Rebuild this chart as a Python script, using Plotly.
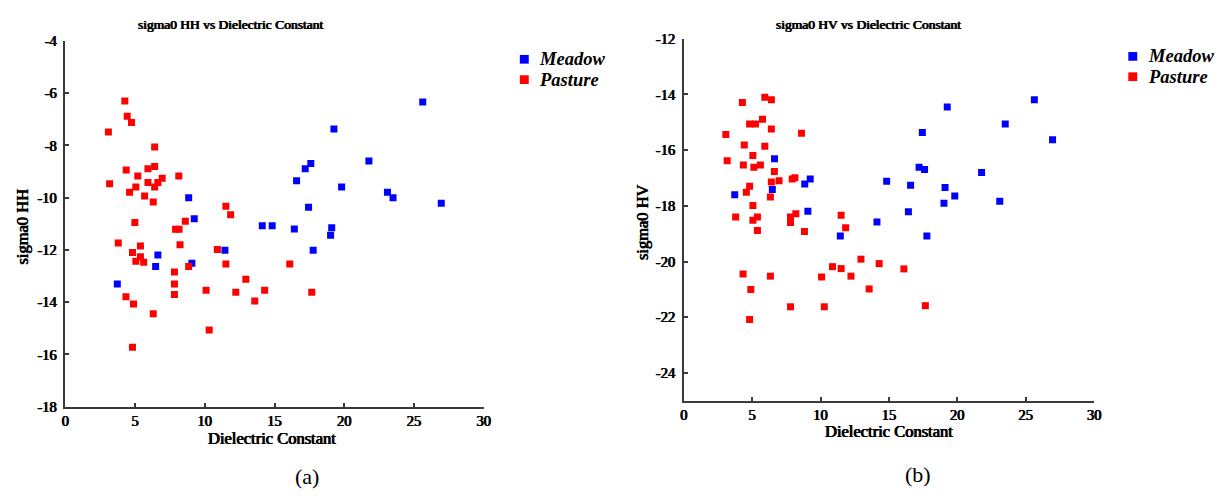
import plotly.graph_objects as go

W, H = 1226, 498

# ---------------- data ----------------
series_names = ["Meadow", "Pasture"]
series_colors = ["#0000FF", "#FF0000"]

meadow_eps = [3.72, 6.47, 6.63, 8.84, 9.24, 9.07, 11.44, 14.12, 14.83, 16.42, 16.58, 17.20,
              17.44, 17.60, 17.77, 19.02, 19.10, 19.26, 19.81, 21.77, 23.10, 23.50, 25.63, 26.96]
meadow_hh = [-13.30, -12.63, -12.19, -10.00, -10.81, -12.51, -12.01, -11.07, -11.07, -11.20, -9.35, -8.89,
             -10.37, -8.69, -12.01, -11.44, -11.15, -7.37, -9.59, -8.60, -9.79, -10.00, -6.34, -10.21]
meadow_hv = [-17.60, -17.41, -16.31, -17.21, -17.03, -18.19, -19.08, -18.58, -17.11, -18.21, -17.26, -16.61,
             -15.36, -16.69, -19.08, -17.90, -17.34, -14.45, -17.64, -16.80, -17.83, -15.06, -14.19, -15.62]

pasture_hh_eps = [4.26, 4.43, 4.74, 3.08, 6.40, 4.36, 6.40, 5.92, 5.19, 6.94,
                  8.13, 3.17, 5.92, 6.63, 6.40, 5.05, 4.60, 5.68, 6.30, 4.98,
                  8.60, 7.90, 8.15, 3.79, 5.38, 8.22, 4.81, 5.38, 5.05, 5.61,
                  8.84, 7.82, 7.82, 7.82, 4.34, 4.88, 6.30, 10.09, 10.31, 4.81,
                  11.51, 11.85, 10.90, 11.51, 16.09, 12.94, 12.22, 14.29, 17.67, 13.58]
pasture_hh = [-6.30, -6.88, -7.12, -7.49, -8.06, -8.94, -8.81, -8.89, -9.17, -9.26,
              -9.17, -9.47, -9.42, -9.42, -9.59, -9.59, -9.79, -9.93, -10.16, -10.95,
              -10.90, -11.21, -11.21, -11.73, -11.85, -11.80, -12.10, -12.26, -12.43, -12.47,
              -12.63, -12.84, -13.30, -13.70, -13.79, -14.07, -14.44, -13.54, -15.06, -15.72,
              -10.33, -10.65, -11.98, -12.54, -12.54, -13.12, -13.62, -13.54, -13.62, -13.95]

pasture_hv_eps = [4.28, 5.92, 6.40, 5.75, 4.81, 5.24, 6.40, 3.07, 8.60, 4.42,
                  5.92, 5.05, 3.17, 4.35, 5.12, 5.60, 6.62, 6.40, 6.96, 7.92,
                  8.12, 4.81, 4.57, 6.33, 5.05, 3.79, 5.38, 5.05, 7.80, 8.19,
                  7.80, 5.38, 8.82, 4.33, 6.33, 10.07, 4.90, 7.80, 10.27, 4.81,
                  11.50, 11.83, 12.95, 10.87, 11.50, 14.28, 16.09, 12.22, 13.55, 17.66]
pasture_hv = [-14.29, -14.10, -14.19, -14.89, -15.06, -15.06, -15.24, -15.44, -15.39, -15.81,
              -15.86, -16.19, -16.38, -16.53, -16.61, -16.53, -16.76, -17.14, -17.10, -17.03,
              -16.99, -17.29, -17.51, -17.68, -17.98, -18.40, -18.40, -18.51, -18.40, -18.28,
              -18.59, -18.88, -18.92, -20.44, -20.52, -20.55, -21.00, -21.62, -21.62, -22.08,
              -18.33, -18.78, -19.91, -20.18, -20.25, -20.07, -20.26, -20.52, -20.98, -21.58]

panel_titles = ["sigma0 HH vs Dielectric Constant", "sigma0 HV vs Dielectric Constant"]
y_titles = ["sigma0 HH", "sigma0 HV"]
x_title = "Dielectric Constant"
captions = ["(a)", "(b)"]
x_ticks = [0, 5, 10, 15, 20, 25, 30]
x_tick_labels = ["0", "5", "10", "15", "20", "25", "30"]
hh_ticks = [-18, -16, -14, -12, -10, -8, -6, -4]
hh_tick_labels = ["-18", "-16", "-14", "-12", "-10", "-8", "-6", "-4"]
hv_ticks = [-24, -22, -20, -18, -16, -14, -12]
hv_tick_labels = ["-24", "-22", "-20", "-18", "-16", "-14", "-12"]

# ---------------- figure ----------------
AX = "#3a3a3a"

def px(x):
    return x / W

def py(y):
    return 1 - y / H

fig = go.Figure()

fig.add_trace(go.Scatter(x=meadow_eps, y=meadow_hh, mode="markers", name=series_names[0],
                         marker=dict(symbol="square", size=7, color=series_colors[0]),
                         xaxis="x", yaxis="y", showlegend=False))
fig.add_trace(go.Scatter(x=pasture_hh_eps, y=pasture_hh, mode="markers", name=series_names[1],
                         marker=dict(symbol="square", size=7, color=series_colors[1]),
                         xaxis="x", yaxis="y", showlegend=False))
fig.add_trace(go.Scatter(x=meadow_eps, y=meadow_hv, mode="markers", name=series_names[0],
                         marker=dict(symbol="square", size=7, color=series_colors[0]),
                         xaxis="x2", yaxis="y2", showlegend=False))
fig.add_trace(go.Scatter(x=pasture_hv_eps, y=pasture_hv, mode="markers", name=series_names[1],
                         marker=dict(symbol="square", size=7, color=series_colors[1]),
                         xaxis="x2", yaxis="y2", showlegend=False))

# serif "bold" look: regular Liberation Serif thickened with a thin text shadow
SH = "0.5px 0 0 #000, -0.5px 0 0 #000"
FONT = dict(family="Liberation Serif", color="#000", weight="normal", shadow=SH)

def common(vals, labels):
    return dict(showgrid=False, zeroline=False, showline=True, linecolor=AX, linewidth=1.5,
                ticks="inside", ticklen=4, tickwidth=1.5, tickcolor=AX,
                tickmode="array", tickvals=vals, ticktext=labels,
                tickfont=dict(size=14.5, **FONT), mirror=False)

fig.update_layout(
    width=W, height=H,
    margin=dict(l=0, r=0, t=0, b=0),
    paper_bgcolor="white", plot_bgcolor="white",
    xaxis=dict(domain=[px(62), px(484)], range=[0, 30], anchor="y",
               **common(x_ticks, x_tick_labels)),
    yaxis=dict(domain=[py(412), py(34)], range=[-18, -4], anchor="x", ticklabelstandoff=4,
               **common(hh_ticks, hh_tick_labels)),
    xaxis2=dict(domain=[px(686), px(1100)], range=[0, 30], anchor="y2",
                **common(x_ticks, x_tick_labels)),
    yaxis2=dict(domain=[py(406), py(31.8)], range=[-25, -12], anchor="x2", ticklabelstandoff=4,
                **common(hv_ticks, hv_tick_labels)),
)

ann = []
# panel titles
for t, cx in zip(panel_titles, [229, 872]):
    ann.append(dict(text=t, x=px(cx), y=py(17), xref="paper", yref="paper", showarrow=False,
                    xanchor="center", yanchor="middle", font=dict(size=13.5, **FONT)))
# y titles
for t, cx, cy in zip(y_titles, [19, 645], [226, 221]):
    ann.append(dict(text=t, x=px(cx), y=py(cy), xref="paper", yref="paper", showarrow=False,
                    xanchor="center", yanchor="middle", textangle=-90, font=dict(size=16.5, **FONT)))
# x titles
for cx, cy in zip([270, 893], [445, 438]):
    ann.append(dict(text=x_title, x=px(cx), y=py(cy), xref="paper", yref="paper",
                    showarrow=False, xanchor="center", yanchor="middle", font=dict(size=16.5, **FONT)))
# captions
for t, cx, cy in zip(captions, [306, 922], [484, 482]):
    ann.append(dict(text=t, x=px(cx), y=py(cy), xref="paper", yref="paper", showarrow=False,
                    xanchor="center", yanchor="middle",
                    font=dict(family="Liberation Serif", size=22, color="#000")))

# legends (keys as small squares, labels as text)
shapes = []
for lx, ly in [(525, 53), (1139, 50)]:
    for i, (nm, col) in enumerate(zip(series_names, series_colors)):
        yy = ly + i * 21
        shapes.append(dict(type="rect", xref="paper", yref="paper",
                           x0=px(lx - 4.5), x1=px(lx + 4.5), y0=py(yy + 4.5), y1=py(yy - 4.5),
                           fillcolor=col, line=dict(width=0)))
        ann.append(dict(text=nm, x=px(lx + 13), y=py(yy), xref="paper", yref="paper",
                        showarrow=False, xanchor="left", yanchor="middle",
                        font=dict(family="Liberation Serif", size=18.5, color="#000", weight="bold",
                                  style="italic")))

fig.update_layout(annotations=ann, shapes=shapes)

fig.write_html("out.html",
               post_script="document.body.style.margin='0';document.body.style.overflow='hidden';")
